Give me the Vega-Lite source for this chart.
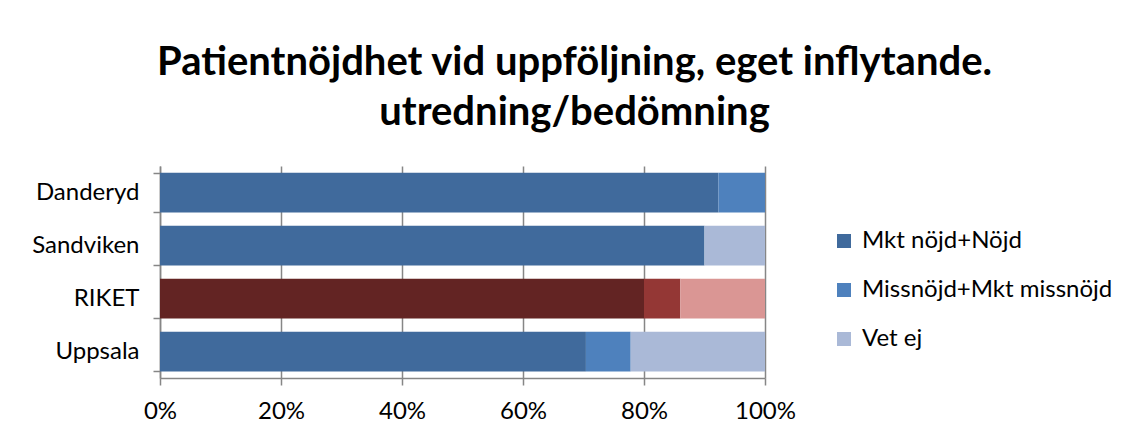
{
  "$schema": "https://vega.github.io/schema/vega-lite/v6.json",
  "width": 605,
  "height": 212,
  "autosize": {"type": "none"},
  "padding": {"left": 160, "top": 166, "right": 366, "bottom": 60},
  "background": "white",
  "config": {"font": "Lato", "view": {"stroke": null}},
  "title": {
    "text": ["Patientnöjdhet vid uppföljning, eget inflytande.", "utredning/bedömning"],
    "font": "Lato",
    "fontSize": 40,
    "fontWeight": "bold",
    "lineHeight": 50,
    "color": "black",
    "anchor": "middle",
    "dx": 112,
    "offset": 21
  },
  "data": {
    "values": [
      {"Område": "Danderyd", "Svar": "Mkt nöjd+Nöjd", "Ordning": 1, "Andel": 0.923},
      {"Område": "Danderyd", "Svar": "Missnöjd+Mkt missnöjd", "Ordning": 2, "Andel": 0.077},
      {"Område": "Danderyd", "Svar": "Vet ej", "Ordning": 3, "Andel": 0.0},
      {"Område": "Sandviken", "Svar": "Mkt nöjd+Nöjd", "Ordning": 1, "Andel": 0.9},
      {"Område": "Sandviken", "Svar": "Missnöjd+Mkt missnöjd", "Ordning": 2, "Andel": 0.0},
      {"Område": "Sandviken", "Svar": "Vet ej", "Ordning": 3, "Andel": 0.1},
      {"Område": "RIKET", "Svar": "Mkt nöjd+Nöjd", "Ordning": 1, "Andel": 0.8},
      {"Område": "RIKET", "Svar": "Missnöjd+Mkt missnöjd", "Ordning": 2, "Andel": 0.06},
      {"Område": "RIKET", "Svar": "Vet ej", "Ordning": 3, "Andel": 0.14},
      {"Område": "Uppsala", "Svar": "Mkt nöjd+Nöjd", "Ordning": 1, "Andel": 0.704},
      {"Område": "Uppsala", "Svar": "Missnöjd+Mkt missnöjd", "Ordning": 2, "Andel": 0.074},
      {"Område": "Uppsala", "Svar": "Vet ej", "Ordning": 3, "Andel": 0.222}
    ]
  },
  "encoding": {
    "y": {
      "field": "Område",
      "type": "nominal",
      "sort": ["Danderyd", "Sandviken", "RIKET", "Uppsala"],
      "scale": {"paddingInner": 0.25, "paddingOuter": 0.125},
      "axis": {
        "title": null,
        "labelFontSize": 24,
        "labelColor": "black",
        "labelPadding": 14,
        "labelLimit": 0,
        "tickSize": 7,
        "tickBand": "extent",
        "tickColor": "#868686",
        "domainColor": "#868686",
        "tickWidth": 1.5,
        "domainWidth": 1.5,
        "grid": false
      }
    },
    "x": {
      "field": "Andel",
      "type": "quantitative",
      "stack": "zero",
      "scale": {"domain": [0, 1], "nice": false},
      "axis": {
        "title": null,
        "values": [0, 0.2, 0.4, 0.6, 0.8, 1],
        "format": ".0%",
        "labelFontSize": 24,
        "labelColor": "black",
        "labelPadding": 14,
        "labelFlush": false,
        "tickSize": 7,
        "tickColor": "#868686",
        "domainColor": "#868686",
        "tickWidth": 1.5,
        "domainWidth": 1.5,
        "grid": true,
        "gridColor": "#868686",
        "gridWidth": 1.5,
        "gridOpacity": 1
      }
    },
    "order": {"field": "Ordning", "type": "quantitative"}
  },
  "layer": [
    {
      "transform": [{"filter": "datum['Område'] !== 'RIKET'"}],
      "mark": {"type": "bar"},
      "encoding": {
        "color": {
          "field": "Svar",
          "type": "nominal",
          "scale": {
            "domain": ["Mkt nöjd+Nöjd", "Missnöjd+Mkt missnöjd", "Vet ej"],
            "range": ["#406A9C", "#4E81BD", "#AAB9D7"]
          },
          "legend": {
            "title": null,
            "orient": "none",
            "legendX": 672,
            "legendY": 63,
            "labelFontSize": 24,
            "labelColor": "black",
            "labelLimit": 0,
            "symbolType": "square",
            "symbolSize": 196,
            "symbolStrokeWidth": 0,
            "rowPadding": 25,
            "labelOffset": 6
          }
        }
      }
    },
    {
      "transform": [{"filter": "datum['Område'] === 'RIKET'"}],
      "mark": {"type": "bar"},
      "encoding": {
        "color": {
          "field": "Svar",
          "type": "nominal",
          "scale": {
            "domain": ["Mkt nöjd+Nöjd", "Missnöjd+Mkt missnöjd", "Vet ej"],
            "range": ["#632423", "#943735", "#DA9694"]
          },
          "legend": null
        }
      }
    }
  ],
  "resolve": {"scale": {"color": "independent"}}
}
